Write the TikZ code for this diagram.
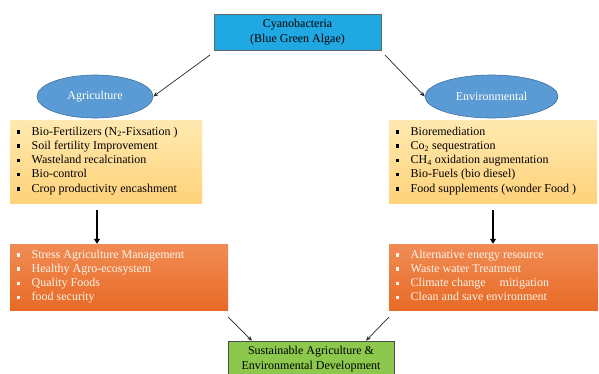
\documentclass[tikz,border=0pt]{standalone}
\usepackage{fontspec}
\setmainfont{Liberation Serif}
\usetikzlibrary{shapes.geometric,arrows.meta}
\newcommand\sqb{\makebox[15pt][l]{\raisebox{1.5pt}{\rule{3.6pt}{3.6pt}}}}
\definecolor{topblue}{HTML}{1FA8E1}
\definecolor{ellblue}{HTML}{5B9BD5}
\definecolor{ellbord}{HTML}{41719C}
\definecolor{ylA}{HTML}{FFE9B0}
\definecolor{ylB}{HTML}{FFD27A}
\definecolor{orA}{HTML}{F08C55}
\definecolor{orB}{HTML}{E86A25}
\definecolor{grn}{HTML}{8CC84B}
\begin{document}
\begin{tikzpicture}[x=1pt,y=-1pt,
  txt/.style={font=\fontsize{12}{14.3}\selectfont},
  topbox/.style={draw=gray!80!black,fill=topblue,line width=0.6pt,minimum width=167pt,minimum height=36pt,inner sep=0pt,align=center,txt},
  ell/.style={ellipse,draw=ellbord,fill=ellblue,line width=0.6pt,minimum width=116pt,minimum height=43pt,inner sep=0pt,text=white,txt},
  ylbox/.style={rectangle,draw=none,top color=ylA,bottom color=ylB,minimum height=83pt,inner sep=0pt},
  orbox/.style={rectangle,draw=none,top color=orA,bottom color=orB,minimum height=66pt,inner sep=0pt},
  grbox/.style={draw=gray!60!black,fill=grn,line width=0.6pt,minimum width=166pt,minimum height=36pt,inner sep=0pt,align=center,txt},
  list/.style={anchor=north west,inner sep=0pt,align=left,txt},
  thin/.style={-{Stealth[length=5pt,width=4pt]},line width=0.7pt,black!85},
  thick/.style={-{Triangle[length=5pt,width=6pt]},line width=2.4pt,black}
]
\path[use as bounding box] (0,0) rectangle (599,373);

\node[topbox] (top) at (297.5,32) {Cyanobacteria\\(Blue Green Algae)};

\node[ell] (agr) at (95,96.5) {Agriculture};
\node[ell,minimum width=133pt] (env) at (491.5,96.5) {Environmental};

\node[ylbox,minimum width=192pt] (y1) at (106,161.5) {};
\node[ylbox,minimum width=208pt] (y2) at (493,161.5) {};

\node[list] (y1t) at (16.5,126.5) {\sqb Bio-Fertilizers (N\textsubscript{2}-Fixsation )\\
\sqb Soil fertility Improvement\\
\sqb Wasteland recalcination\\
\sqb Bio-control\\
\sqb Crop productivity encashment};

\node[list] (y2t) at (395.5,126.5) {\sqb Bioremediation\\
\sqb Co\textsubscript{2} sequestration\\
\sqb CH\textsubscript{4} oxidation augmentation\\
\sqb Bio-Fuels (bio diesel)\\
\sqb Food supplements (wonder Food )};

\node[orbox,minimum width=218pt] (o1) at (119,277) {};
\node[orbox,minimum width=209pt] (o2) at (493.5,277) {};

\node[list,text=white!92!orange] (o1t) at (16.5,249.5) {\sqb Stress Agriculture Management\\
\sqb Healthy Agro-ecosystem\\
\sqb Quality Foods\\
\sqb food security};

\node[list,text=white!92!orange] (o2t) at (395.5,249.5) {\sqb Alternative energy resource\\
\sqb Waste water Treatment\\
\sqb Climate change\hspace{14pt}mitigation\\
\sqb Clean and save environment};

\node[grbox] (sus) at (311,359) {Sustainable Agriculture \&\\Environmental Development};

\coordinate (a1) at (210,55);
\coordinate (a2) at (385,55);
\draw[thin] (a1) -- (agr.east);
\draw[thin] (a2) -- (env.west);

\coordinate (t1) at (97,210);
\coordinate (t2) at (493,210);
\draw[thick] (t1) -- (o1.north -| t1);
\draw[thick] (t2) -- (o2.north -| t2);

\coordinate (b1) at (228,317);
\coordinate (b2) at (389,317);
\draw[thin] (b1) -- (sus.north west -| 252,0);
\draw[thin] (b2) -- (sus.north west -| 366,0);
\end{tikzpicture}
\end{document}
